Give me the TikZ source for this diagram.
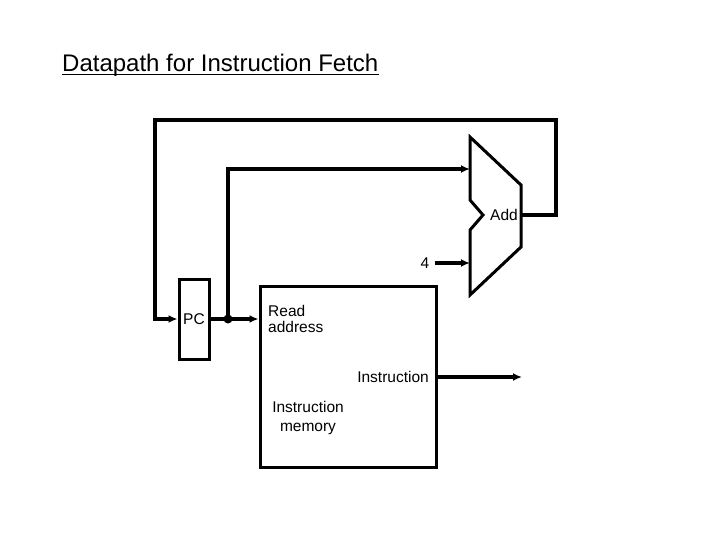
\documentclass[tikz,border=0pt]{standalone}
\usepackage{fontspec}
\setmainfont{Liberation Sans}
\usetikzlibrary{arrows.meta}
\begin{document}
\begin{tikzpicture}[x=1pt,y=-1pt,
  wire/.style={line width=3.5pt},
  arr/.style={wire,-{Latex[length=9pt,width=8pt]}},
  box/.style={draw,line width=3pt,inner sep=0pt},
  lbl/.style={font=\fontsize{15.5}{16}\selectfont,inner sep=0pt},
  ttl/.style={font=\fontsize{24}{28}\selectfont,inner sep=0pt}]
\useasboundingbox (0,0) rectangle (720,540);
% title
\node[ttl,anchor=base west] (title) at (62,72) {Datapath for Instruction Fetch};
\draw[line width=1.4pt] ([yshift=-2.5pt]title.base west) -- ([yshift=-2.5pt]title.base east);
% PC register
\node[box,lbl,minimum width=30pt,minimum height=80pt] (pc) at (194,319) {PC};
% instruction memory
\node[box,minimum width=176pt,minimum height=181pt] (mem) at (348,376.5) {};
\node[lbl,anchor=north west,align=left] (ra) at (268,305) {Read\\address};
\node[lbl,anchor=east] (ins) at (429,377) {Instruction};
\node[lbl,align=center,font=\fontsize{15.5}{19}\selectfont] (imem) at (308,418) {Instruction\\memory};
% adder
\draw[line width=3pt,line join=miter] (470,137) -- (521,185) -- (521,247) -- (470,295) -- (470,230) -- (483,215) -- (470,200) -- cycle;
\coordinate (addA) at (470,169);
\coordinate (addB) at (470,263);
\coordinate (addOut) at (521,215);
\node[lbl,anchor=east] (add) at (518,215) {Add};
\node[lbl] (four) at (425,263) {4};
% junction
\coordinate (j) at (228,319);
\coordinate (instout) at (522,377);
% wires
\draw[arr] (addOut) -- (556,215) |- (155,120) |- (pc.west);
\draw[arr] (pc.east) -- (mem.west |- pc.east);
\fill (j) circle (4.5pt);
\draw[arr] (j) |- (addA);
\draw[arr] ([xshift=5pt]four.east) -- (addB);
\draw[arr] (mem.east |- instout) -- (instout);
\end{tikzpicture}
\end{document}
